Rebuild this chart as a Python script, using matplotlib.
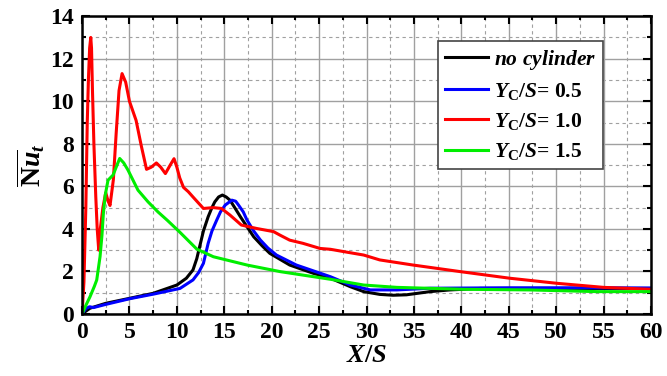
import matplotlib
matplotlib.use('Agg')
import matplotlib.pyplot as plt
from matplotlib.ticker import MultipleLocator

plt.rcParams['font.family'] = 'Liberation Serif'
plt.rcParams['font.weight'] = 'bold'
plt.rcParams['mathtext.fontset'] = 'custom'
plt.rcParams['mathtext.rm'] = 'Liberation Serif:bold'
plt.rcParams['mathtext.it'] = 'Liberation Serif:bold:italic'
plt.rcParams['mathtext.bf'] = 'Liberation Serif:bold'

# Daten
x_none = [0, 0.84, 2.5, 5.06, 7.5, 10.0, 11.0, 11.7, 12.1, 12.4, 12.8, 13.3, 13.7, 14.0, 14.4,
          14.8, 15.2, 15.6, 16.1, 16.7, 17.4, 18.1, 19.0, 19.8, 21.9, 24.4, 26.2, 27.3, 28.3,
          29.7, 31.4, 32.8, 34.2, 36.7, 38.8, 42, 50, 60]
y_none = [0, 0.27, 0.5, 0.74, 0.97, 1.36, 1.68, 2.07, 2.6, 3.16, 3.9, 4.57, 5.0, 5.27, 5.5,
          5.59, 5.5, 5.35, 5.0, 4.57, 4.1, 3.63, 3.2, 2.85, 2.30, 1.91, 1.68, 1.47, 1.28,
          1.05, 0.92, 0.88, 0.9, 1.05, 1.13, 1.2, 1.2, 1.2]

x_05 = [0, 0.4, 0.8, 1.2, 2.5, 5.06, 7.5, 10.33, 11.7, 12.3, 12.8, 13.3, 13.7, 14.2, 14.6,
        15.1, 15.8, 16.2, 16.5, 17.0, 17.4, 18.1, 18.8, 19.6, 20.5, 22.6, 26.2, 28.3, 30.4,
        33.2, 36.7, 45, 55, 60]
y_05 = [0, 0.25, 0.34, 0.3, 0.45, 0.72, 0.93, 1.2, 1.6, 1.95, 2.38, 3.32, 3.9, 4.41, 4.8,
        5.12, 5.35, 5.3, 5.12, 4.8, 4.41, 3.9, 3.48, 3.1, 2.77, 2.30, 1.75, 1.36, 1.13,
        1.13, 1.21, 1.23, 1.23, 1.22]

x_10 = [0, 0.2, 0.4, 0.55, 0.67, 0.8, 0.92, 1.0, 1.1, 1.25, 1.45, 1.6, 1.76, 1.9, 2.2, 2.5,
        2.75, 2.95, 3.3, 3.6, 3.9, 4.22, 4.6, 5.0, 5.7, 6.25, 6.8, 7.3, 7.84, 8.3, 8.79, 9.3,
        9.7, 10.0, 10.3, 10.7, 11.2, 11.7, 12.8, 13.85, 14.7, 15.6, 16.8, 18.4, 20.2, 20.9,
        21.9, 23.3, 25.1, 26.2, 28.0, 29.7, 31.4, 34.9, 39.9, 45.1, 50.1, 55.0, 60]
y_10 = [0, 1.5, 5, 9, 11, 12.5, 13.0, 12.5, 10.5, 8, 5.5, 4, 3.0, 3.9, 5.0, 5.7,
        5.3, 5.1, 6.3, 8.5, 10.5, 11.3, 10.9, 10.0, 9.1, 7.9, 6.8, 6.9, 7.1, 6.9, 6.6, 7.0,
        7.3, 6.9, 6.4, 5.95, 5.75, 5.5, 4.96, 5.0, 4.96, 4.65, 4.18, 4.02, 3.87, 3.7,
        3.47, 3.32, 3.08, 3.04, 2.9, 2.77, 2.54, 2.3, 1.99, 1.68, 1.44, 1.25, 1.16]

x_15 = [0, 0.4, 0.84, 1.3, 1.55, 1.9, 2.1, 2.25, 2.45, 2.74, 3.27, 3.6, 3.97, 4.4, 4.85,
        5.9, 6.96, 8.0, 9.0, 10.3, 11.2, 12.1, 13.85, 17.4, 20.9, 26.2, 29.7, 33.2, 40.2,
        47.2, 54.3, 60]
y_15 = [0, 0.4, 0.81, 1.3, 1.6, 2.7, 3.7, 4.73, 5.6, 6.29, 6.53, 6.9, 7.31, 7.1, 6.76,
        5.82, 5.27, 4.8, 4.4, 3.85, 3.45, 3.05, 2.69, 2.3, 1.99, 1.63, 1.36, 1.25, 1.16,
        1.13, 1.05, 1.05]

fig = plt.figure(figsize=(6.67, 3.76), dpi=100)
ax = fig.add_axes([0.123, 0.165, 0.853, 0.792])

lw = 2.2
ax.plot(x_none, y_none, color='black', lw=lw, label=r'$no\ cylinder$')
ax.plot(x_05, y_05, color='#0000ff', lw=lw, label=r'$Y_{\mathrm{C}}/S$= 0.5')
ax.plot(x_10, y_10, color='#ff0000', lw=lw, label=r'$Y_{\mathrm{C}}/S$= 1.0')
ax.plot(x_15, y_15, color='#00ee00', lw=lw, label=r'$Y_{\mathrm{C}}/S$= 1.5')

ax.set_xlim(0, 60)
ax.set_ylim(0, 14)
ax.xaxis.set_major_locator(MultipleLocator(5))
ax.xaxis.set_minor_locator(MultipleLocator(2.5))
ax.yaxis.set_major_locator(MultipleLocator(2))
ax.yaxis.set_minor_locator(MultipleLocator(1))

ax.grid(which='major', color='#a0a0a0', lw=1.0, ls='-')
ax.grid(which='minor', color='#a0a0a0', lw=0.8, ls=(0, (3, 3)))
ax.set_axisbelow(True)

ax.tick_params(which='both', direction='in', top=True, right=True, width=1.5,
               labelsize=17, pad=6)
ax.tick_params(which='major', length=6)
ax.tick_params(which='minor', length=3)
for s in ax.spines.values():
    s.set_linewidth(1.8)

ax.set_xlabel(r'$X/S$', fontsize=19, labelpad=1)
ax.set_ylabel(r'$\overline{\mathrm{N}u}_{t}$', fontsize=20, labelpad=2)

leg = ax.legend(loc='upper right', bbox_to_anchor=(0.915, 0.915), fontsize=15.5,
                frameon=True, fancybox=False, handlelength=2.0, handletextpad=0.3,
                borderpad=0.3, labelspacing=0.42, borderaxespad=0)
leg.get_frame().set_edgecolor('#444444')
leg.get_frame().set_linewidth(1.2)
leg.get_frame().set_alpha(1)

fig.savefig('out.png', dpi=100)
